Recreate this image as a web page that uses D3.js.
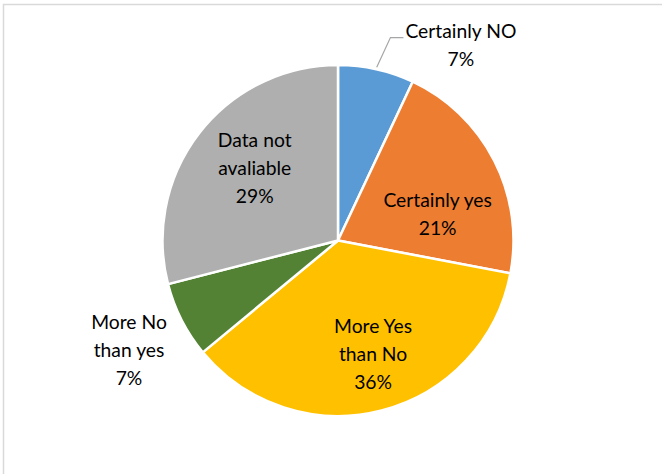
<!DOCTYPE html>
<html>
<head>
<meta charset="utf-8">
<script src="https://cdn.jsdelivr.net/npm/d3@7"></script>
<style>
  html, body { margin: 0; padding: 0; background: #fff; }
  svg { display: block; }
  text { font-family: Lato, "Liberation Sans", sans-serif; fill: #000; }
</style>
</head>
<body>
<svg id="chart" width="662" height="474"></svg>
<script>
// Survey answers, clockwise from 12 o'clock
const categories = ["Certainly NO", "Certainly yes", "More Yes than No", "More No than yes", "Data not avaliable"];
const values = [7, 21, 36, 7, 29];
const colors = ["#5B9BD5", "#ED7D31", "#FFC000", "#548235", "#AFAFAF"];
// Label text, one entry per line
const labelLines = [
  ["Certainly NO", "7%"],
  ["Certainly yes", "21%"],
  ["More Yes", "than No", "36%"],
  ["More No", "than yes", "7%"],
  ["Data not", "avaliable", "29%"]
];
// Label anchors: angle (degrees clockwise from top) and distance in radii
const labelAngle = [32.2, 75.3, 162.9, 242.3, 310.9];
const labelDist = [1.314, 0.587, 0.679, 1.345, 0.628];

const width = 662, height = 474;
const cx = 338, cy = 240.5, radius = 175.5;
const fontSize = 19.3, lineGap = 28;

const svg = d3.select("#chart");

// Chart area frame
svg.append("rect")
  .attr("x", 3.5).attr("y", 4.5)
  .attr("width", width + 10).attr("height", height + 10)
  .attr("fill", "none")
  .attr("stroke", "#d9d9d9")
  .attr("stroke-width", 1.5);

const pie = d3.pie().sort(null).value(d => d)(values);
const arc = d3.arc().innerRadius(0).outerRadius(radius);

const g = svg.append("g").attr("transform", `translate(${cx},${cy})`);

g.selectAll("path.slice")
  .data(pie)
  .join("path")
  .attr("class", "slice")
  .attr("d", arc)
  .attr("fill", (d, i) => colors[i])
  .attr("stroke", "#fff")
  .attr("stroke-width", 2.5)
  .attr("stroke-linejoin", "round");

const toXY = (deg, r) => {
  const a = deg * Math.PI / 180;
  return [Math.sin(a) * r, -Math.cos(a) * r];
};

// Data labels
const labelNodes = labelLines.map((lines, i) => {
  const [x, y] = toXY(labelAngle[i], labelDist[i] * radius);
  const t = g.append("text")
    .attr("text-anchor", "middle")
    .attr("font-size", fontSize);
  const y0 = y - (lines.length - 1) * lineGap / 2 + fontSize * 0.35;
  lines.forEach((s, k) => {
    t.append("tspan").attr("x", x).attr("y", y0 + k * lineGap).text(s);
  });
  return { node: t, x, y0 };
});

// Leader line from the small blue slice to its outside label
{
  const d = pie[0];
  const mid = (d.startAngle + d.endAngle) / 2 * 180 / Math.PI;
  const p0 = toXY(mid, radius + 2);
  const lab = labelNodes[0];
  const firstW = lab.node.select("tspan").node().getComputedTextLength();
  const p2 = [lab.x - firstW / 2 - 2, lab.y0 - 0.5];
  const p1 = [p2[0] - 13, p2[1]];
  g.append("polyline")
    .attr("points", [p0, p1, p2].map(p => p.join(",")).join(" "))
    .attr("fill", "none")
    .attr("stroke", "#a6a6a6")
    .attr("stroke-width", 1.2);
}
</script>
</body>
</html>
